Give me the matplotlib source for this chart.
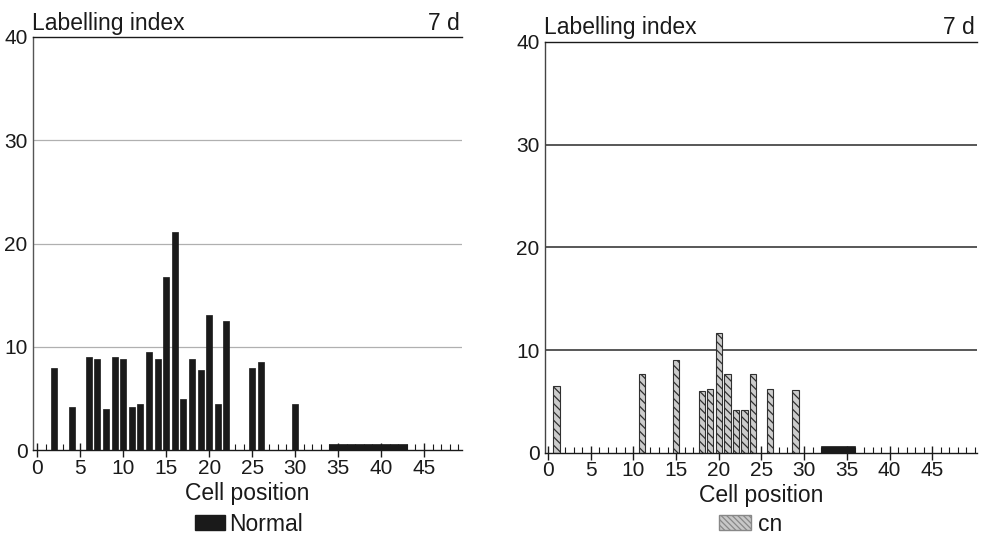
import numpy as np
import matplotlib
matplotlib.use("Agg")
import matplotlib.pyplot as plt
from matplotlib.patches import Patch
from matplotlib.ticker import MultipleLocator

plt.rcParams['font.family'] = ['Liberation Sans', 'DejaVu Sans']
plt.rcParams['hatch.linewidth'] = 0.9

# labelling index per cell position, 7 days
normal_pos = [2, 4, 6, 7, 8, 9, 10, 11, 12, 13, 14, 15, 16, 17, 18, 19, 20, 21, 22, 25, 26, 30]
normal_li = [8.0, 4.2, 9.0, 8.8, 4.0, 9.0, 8.8, 4.2, 4.5, 9.5, 8.8, 16.8, 21.1, 5.0, 8.8, 7.8,
             13.1, 4.5, 12.5, 8.0, 8.5, 4.5]
normal_zero = (34, 43)   # black strip on the axis

cn_pos = [1, 11, 15, 18, 19, 20, 21, 22, 23, 24, 26, 29]
cn_li = [6.5, 7.7, 9.0, 6.0, 6.2, 11.7, 7.7, 4.2, 4.2, 7.7, 6.2, 6.1]
cn_zero = (32, 36)

x_ticks = [0, 5, 10, 15, 20, 25, 30, 35, 40, 45]
y_ticks = [0, 10, 20, 30, 40]

ink = '#1a1a1a'
TICK_FS = 15
LABEL_FS = 16.5

fig = plt.figure(figsize=(9.88, 5.36), dpi=100)
ax1 = fig.add_axes([0.0334, 0.160, 0.434, 0.771])
ax2 = fig.add_axes([0.5516, 0.155, 0.437, 0.767])


def style_axes(ax, xlim, spinecolor, gridcolor, gridwidth):
    ax.set_xlim(*xlim)
    ax.set_ylim(0, 40)
    ax.set_axisbelow(True)
    ax.spines['right'].set_visible(False)
    ax.spines['left'].set_color(spinecolor)
    ax.spines['left'].set_linewidth(1.0)
    for s in ['bottom', 'top']:
        ax.spines[s].set_color(ink)
        ax.spines[s].set_linewidth(1.0)
    ax.set_yticks(y_ticks)
    ax.set_yticklabels([str(v) for v in y_ticks], fontsize=TICK_FS, color=ink)
    ax.tick_params(axis='y', length=0, pad=4)
    ax.set_xticks(x_ticks)
    ax.set_xticklabels([str(v) for v in x_ticks], fontsize=TICK_FS, color=ink)
    ax.xaxis.set_minor_locator(MultipleLocator(1))
    ax.tick_params(axis='x', which='major', direction='inout', length=10, width=1.0, color=ink, pad=1)
    ax.tick_params(axis='x', which='minor', direction='in', length=4.5, width=0.8, color=ink)
    for v in [10, 20, 30]:
        ax.axhline(v, color=gridcolor, lw=gridwidth, zorder=0.5)
    ax.text(-0.002, 1.006, 'Labelling index', transform=ax.transAxes, ha='left', va='bottom',
            fontsize=LABEL_FS, color=ink)
    ax.text(0.995, 1.006, '7 d', transform=ax.transAxes, ha='right', va='bottom',
            fontsize=LABEL_FS, color=ink)
    ax.set_xlabel('Cell position', fontsize=LABEL_FS, color=ink, labelpad=3)


style_axes(ax1, (-0.5, 49.4), '#555555', '#b0b0b0', 0.9)
style_axes(ax2, (-0.35, 50.2), '#444444', '#2a2a2a', 1.1)

# left panel: normal
ax1.bar(normal_pos, normal_li, width=0.7, color=ink, edgecolor=ink, linewidth=0.5, zorder=2)
ax1.bar(normal_zero[0], 0.65, width=normal_zero[1] - normal_zero[0], align='edge',
        color=ink, edgecolor=ink, linewidth=0.5, zorder=2)

# right panel: cn
ax2.bar(cn_pos, cn_li, width=0.75, color='#cccccc', edgecolor='#303030', hatch='\\\\\\\\',
        linewidth=0.8, zorder=2)
ax2.bar(cn_zero[0], 0.65, width=cn_zero[1] - cn_zero[0], align='edge',
        color=ink, edgecolor=ink, linewidth=0.5, zorder=2)

fig.legend(handles=[Patch(facecolor=ink, edgecolor=ink, label='Normal')],
           loc='center', bbox_to_anchor=(0.252, 0.022), frameon=False, fontsize=LABEL_FS,
           handlelength=1.3, handleheight=0.65, handletextpad=0.15, labelcolor=ink)
fig.legend(handles=[Patch(facecolor='#c8c8c8', edgecolor='#888888', hatch='\\\\\\\\\\\\',
                          label='cn')],
           loc='center', bbox_to_anchor=(0.76, 0.022), frameon=False, fontsize=LABEL_FS,
           handlelength=1.4, handleheight=0.65, handletextpad=0.3, labelcolor=ink)

fig.savefig('out.png', dpi=100)
